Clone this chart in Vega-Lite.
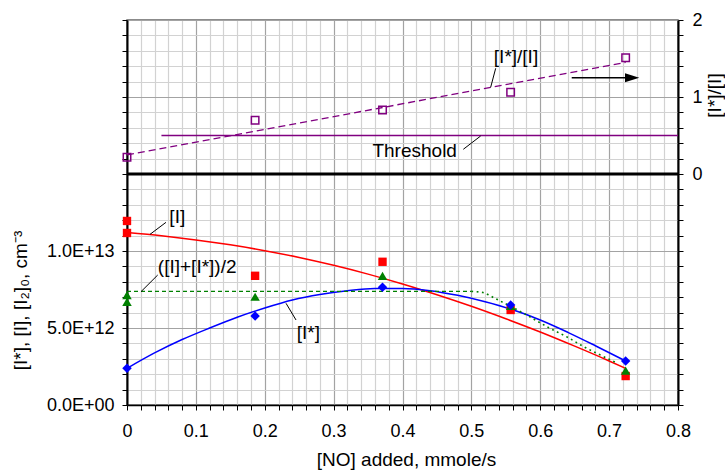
{
  "$schema": "https://vega.github.io/schema/vega-lite/v6.json",
  "width": 551,
  "height": 385,
  "autosize": "none",
  "padding": {"left": 127, "top": 20, "right": 47, "bottom": 65},
  "background": "white",
  "config": {
    "font": "Liberation Sans",
    "view": {"stroke": "#666666", "strokeWidth": 1.5},
    "axis": {
      "domainColor": "black",
      "tickColor": "black",
      "labelColor": "black",
      "titleColor": "black",
      "labelFont": "Liberation Sans",
      "titleFont": "Liberation Sans",
      "labelFontSize": 18,
      "titleFontSize": 19,
      "titleFontWeight": "normal",
      "tickSize": 5,
      "labelOverlap": false,
      "labelFlush": false,
      "labelBound": false
    },
    "text": {"font": "Liberation Sans"}
  },
  "datasets": {
    "ptsI": [
      {"x": 0, "v": 1.195e13}, {"x": 0, "v": 1.117e13}, {"x": 0.186, "v": 8.39e12},
      {"x": 0.371, "v": 9.30e12}, {"x": 0.557, "v": 6.17e12}, {"x": 0.724, "v": 1.88e12}
    ],
    "ptsAvg": [
      {"x": 0, "v": 7.14e12}, {"x": 0, "v": 6.69e12}, {"x": 0.186, "v": 7.03e12},
      {"x": 0.371, "v": 8.39e12}, {"x": 0.557, "v": 6.43e12}, {"x": 0.724, "v": 2.23e12}
    ],
    "ptsIstar": [
      {"x": 0, "v": 2.38e12}, {"x": 0.186, "v": 5.78e12}, {"x": 0.371, "v": 7.64e12},
      {"x": 0.557, "v": 6.49e12}, {"x": 0.724, "v": 2.86e12}
    ],
    "curveI": [
      {"x": 0, "v": 1.12e13}, {"x": 0.05, "v": 1.099e13}, {"x": 0.1, "v": 1.072e13},
      {"x": 0.15, "v": 1.040e13}, {"x": 0.2, "v": 1.002e13}, {"x": 0.25, "v": 9.58e12},
      {"x": 0.3, "v": 9.07e12}, {"x": 0.35, "v": 8.50e12}, {"x": 0.4, "v": 7.86e12},
      {"x": 0.45, "v": 7.16e12}, {"x": 0.5, "v": 6.41e12}, {"x": 0.55, "v": 5.60e12},
      {"x": 0.6, "v": 4.74e12}, {"x": 0.65, "v": 3.82e12}, {"x": 0.7, "v": 2.86e12},
      {"x": 0.724, "v": 2.38e12}
    ],
    "curveIstar": [
      {"x": 0, "v": 2.38e12}, {"x": 0.04, "v": 3.38e12}, {"x": 0.08, "v": 4.25e12},
      {"x": 0.12, "v": 5.0e12}, {"x": 0.16, "v": 5.7e12}, {"x": 0.2, "v": 6.3e12},
      {"x": 0.24, "v": 6.82e12}, {"x": 0.28, "v": 7.18e12}, {"x": 0.32, "v": 7.42e12},
      {"x": 0.36, "v": 7.56e12}, {"x": 0.4, "v": 7.56e12}, {"x": 0.44, "v": 7.42e12},
      {"x": 0.48, "v": 7.12e12}, {"x": 0.52, "v": 6.7e12}, {"x": 0.56, "v": 6.18e12},
      {"x": 0.6, "v": 5.52e12}, {"x": 0.64, "v": 4.72e12}, {"x": 0.68, "v": 3.85e12},
      {"x": 0.724, "v": 2.86e12}
    ],
    "avgFlat": [
      {"x": 0, "v": 7.38e12}, {"x": 0.5, "v": 7.38e12}
    ],
    "avgDrop": [
      {"x": 0.5, "v": 7.38e12}, {"x": 0.517, "v": 7.30e12}, {"x": 0.534, "v": 6.93e12},
      {"x": 0.576, "v": 5.95e12}, {"x": 0.614, "v": 4.98e12}, {"x": 0.638, "v": 4.44e12},
      {"x": 0.663, "v": 3.79e12}, {"x": 0.682, "v": 3.36e12}, {"x": 0.71, "v": 2.75e12}
    ],
    "lowerLabels": [
      {"x": 0.073, "v": 1.2227e13, "t": "[I]"},
      {"x": 0.1019, "v": 8.98e12, "t": "([I]+[I*])/2"},
      {"x": 0.2633, "v": 4.656e12, "t": "[I*]"}
    ],
    "lowerLeaders": [
      {"x": 0.0334, "v": 1.108e13, "x2": 0.0566, "v2": 1.186e13},
      {"x": 0.0203, "v": 7.357e12, "x2": 0.0446, "v2": 8.44e12},
      {"x": 0.2309, "v": 6.604e12, "x2": 0.2454, "v2": 5.52e12}
    ],
    "ratio": [
      {"x": 0, "r": 0.217}, {"x": 0.186, "r": 0.697}, {"x": 0.371, "r": 0.831},
      {"x": 0.557, "r": 1.061}, {"x": 0.724, "r": 1.51}
    ],
    "ratioFit": [
      {"x": 0, "r": 0.247}, {"x": 0.724, "r": 1.45}
    ],
    "threshold": [{"x": 0.05, "x2": 0.8, "r": 0.5}],
    "separator": [{"x": 0, "x2": 0.8, "r": 0}],
    "arrowLine": [{"x": 0.6457, "x2": 0.7231, "r": 1.251}],
    "arrowHead": [{"x": 0.7334, "r": 1.251}],
    "upperLabels": [
      {"x": 0.5648, "r": 1.523, "t": "[I*]/[I]"},
      {"x": 0.4177, "r": 0.301, "t": "Threshold"}
    ],
    "upperLeaders": [
      {"x": 0.5353, "r": 1.373, "x2": 0.528, "r2": 1.126},
      {"x": 0.4883, "r": 0.321, "x2": 0.5135, "r2": 0.494}
    ]
  },
  "encoding": {
    "x": {
      "field": "x",
      "type": "quantitative",
      "scale": {"domain": [0, 0.8], "nice": false, "zero": false},
      "axis": {
        "title": "[NO] added, mmole/s",
        "values": [0,0.02,0.04,0.06,0.08,0.1,0.12,0.14,0.16,0.18,0.2,0.22,0.24,0.26,0.28,0.3,0.32,0.34,0.36,0.38,0.4,0.42,0.44,0.46,0.48,0.5,0.52,0.54,0.56,0.58,0.6,0.62,0.64,0.66,0.68,0.7,0.72,0.74,0.76,0.78,0.8],
        "labelExpr": "abs(datum.value*10-round(datum.value*10))<1e-6 ? format(datum.value, '.1~f') : ''",
        "grid": true,
        "gridColor": {"condition": {"test": "abs(datum.value*10-round(datum.value*10))<1e-6", "value": "#a3a3a3"}, "value": "#d2d2d2"},
        "gridWidth": 1.2,
        "domainWidth": 1.5,
        "labelBaseline": "middle",
        "labelPadding": 21,
        "titleBaseline": "middle",
        "titleY": 54.5,
        "titleX": 279
      }
    }
  },
  "layer": [
    {
      "encoding": {
        "y": {
          "field": "v",
          "type": "quantitative",
          "scale": {"domain": [0, 2.5e13], "nice": false, "zero": false},
          "axis": {
            "orient": "left",
            "title": "[I*], [I], [I₂]₀, cm⁻³",
            "values": [0,1e12,2e12,3e12,4e12,5e12,6e12,7e12,8e12,9e12,1e13,1.1e13,1.2e13,1.3e13,1.4e13,1.5e13,1.6e13,1.7e13,1.8e13,1.9e13,2e13,2.1e13,2.2e13,2.3e13,2.4e13,2.5e13],
            "labelExpr": "datum.value==0 ? '0.0E+00' : datum.value==5e12 ? '5.0E+12' : datum.value==1e13 ? '1.0E+13' : ''",
            "grid": true,
            "gridColor": {"condition": {"test": "datum.value % 5e12 === 0", "value": "#a3a3a3"}, "value": "#d2d2d2"},
            "gridWidth": 1.2,
            "domainWidth": 2,
            "labelPadding": 8,
            "titleBaseline": "middle",
            "titleX": -107,
            "titleY": 280
          }
        }
      },
      "layer": [
        {"data": {"name": "curveI"}, "mark": {"type": "line", "color": "#ff0000", "strokeWidth": 1.5, "interpolate": "monotone"}},
        {"data": {"name": "curveIstar"}, "mark": {"type": "line", "color": "#0000ff", "strokeWidth": 1.5, "interpolate": "monotone"}},
        {"data": {"name": "avgFlat"}, "mark": {"type": "line", "color": "#008000", "strokeWidth": 1.2, "strokeDash": [4, 3]}},
        {"data": {"name": "avgDrop"}, "mark": {"type": "line", "color": "#008000", "strokeWidth": 1.6, "strokeDash": [1.8, 3.5], "interpolate": "monotone"}},
        {"data": {"name": "ptsI"}, "mark": {"type": "point", "shape": "square", "filled": true, "color": "#ff0000", "size": 70, "opacity": 1}},
        {"data": {"name": "ptsAvg"}, "mark": {"type": "point", "shape": "triangle-up", "filled": true, "color": "#008000", "size": 90, "opacity": 1}},
        {"data": {"name": "ptsIstar"}, "mark": {"type": "point", "shape": "diamond", "filled": true, "color": "#0000ff", "size": 90, "opacity": 1}},
        {"data": {"name": "lowerLeaders"}, "mark": {"type": "rule", "color": "black", "strokeWidth": 1}, "encoding": {"x2": {"field": "x2"}, "y2": {"field": "v2"}}},
        {"data": {"name": "lowerLabels"}, "mark": {"type": "text", "fontSize": 19, "color": "black", "align": "center", "baseline": "middle"}, "encoding": {"text": {"field": "t"}}}
      ]
    },
    {
      "encoding": {
        "y": {
          "field": "r",
          "type": "quantitative",
          "scale": {"domain": [-3, 2], "nice": false, "zero": false},
          "axis": {
            "orient": "right",
            "title": "[I*]/[I]",
            "values": [-3,-2.8,-2.6,-2.4,-2.2,-2,-1.8,-1.6,-1.4,-1.2,-1,-0.8,-0.6,-0.4,-0.2,0,0.2,0.4,0.6,0.8,1,1.2,1.4,1.6,1.8,2],
            "labelExpr": "datum.value==0 ? '0' : datum.value==1 ? '1' : datum.value==2 ? '2' : ''",
            "grid": false,
            "domainWidth": 2,
            "labelPadding": 9,
            "titleBaseline": "middle",
            "titleAngle": -90,
            "titleX": 36,
            "titleY": 75
          }
        }
      },
      "layer": [
        {"data": {"name": "separator"}, "mark": {"type": "rule", "color": "black", "strokeWidth": 3}, "encoding": {"x2": {"field": "x2"}}},
        {"data": {"name": "threshold"}, "mark": {"type": "rule", "color": "#800080", "strokeWidth": 1.5}, "encoding": {"x2": {"field": "x2"}}},
        {"data": {"name": "ratioFit"}, "mark": {"type": "line", "color": "#800080", "strokeWidth": 1.3, "strokeDash": [7, 4]}},
        {"data": {"name": "ratio"}, "mark": {"type": "point", "shape": "square", "filled": false, "color": "#800080", "strokeWidth": 1.5, "size": 56, "opacity": 1}},
        {"data": {"name": "arrowLine"}, "mark": {"type": "rule", "color": "black", "strokeWidth": 1.5}, "encoding": {"x2": {"field": "x2"}}},
        {"data": {"name": "arrowHead"}, "mark": {"type": "point", "shape": "M-1,-0.63L1,0L-1,0.63Z", "filled": true, "color": "black", "size": 204, "opacity": 1}},
        {"data": {"name": "upperLeaders"}, "mark": {"type": "rule", "color": "black", "strokeWidth": 1}, "encoding": {"x2": {"field": "x2"}, "y2": {"field": "r2"}}},
        {"data": {"name": "upperLabels"}, "mark": {"type": "text", "fontSize": 19, "color": "black", "align": "center", "baseline": "middle"}, "encoding": {"text": {"field": "t"}}}
      ]
    }
  ],
  "resolve": {"scale": {"y": "independent"}, "axis": {"y": "independent"}}
}
